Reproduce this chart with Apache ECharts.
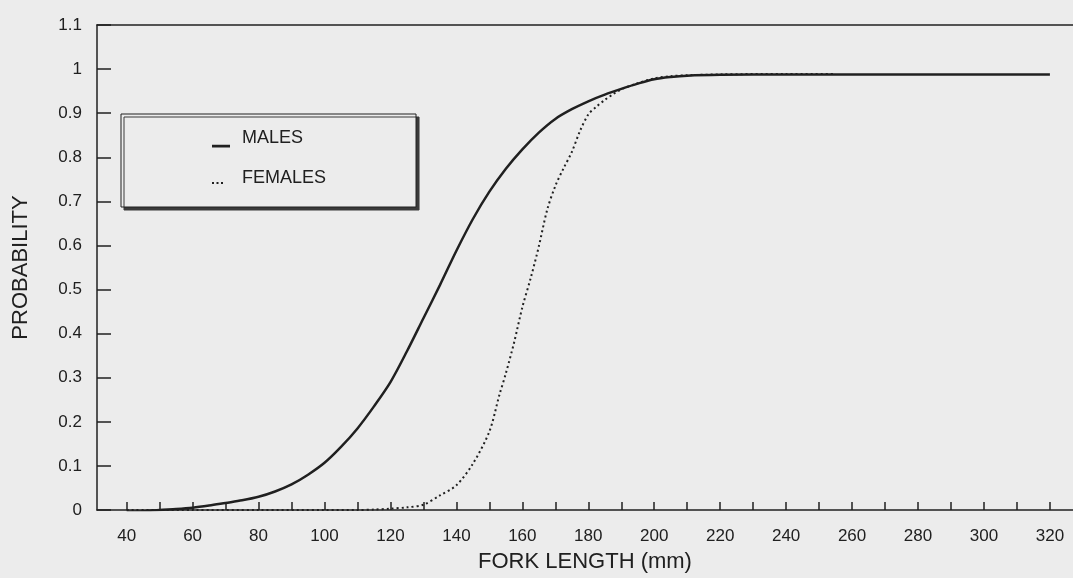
<!DOCTYPE html>
<html>
<head>
<meta charset="utf-8">
<title>Probability vs fork length</title>
<script src="https://cdn.jsdelivr.net/npm/echarts@6/dist/echarts.min.js"></script>
<style>
  html, body { margin: 0; padding: 0; background: #ececec; }
  #chart { width: 1073px; height: 578px; }
</style>
</head>
<body>
<div id="chart"></div>
<script>
// fork length (mm) and probability
const maleLen = [40, 45, 50, 55, 60, 65, 70, 75, 80, 85, 90, 95, 100, 105, 110, 115, 120, 125, 130, 135,
  140, 145, 150, 155, 160, 165, 170, 175, 180, 185, 190, 195, 200, 205, 210, 220, 240, 260, 280, 300, 320];
const maleProb = [-0.004, -0.003, 0.0, 0.002, 0.005, 0.01, 0.016, 0.022, 0.03, 0.042, 0.058, 0.08, 0.107, 0.143, 0.185, 0.235, 0.29, 0.36, 0.435, 0.51,
  0.588, 0.66, 0.722, 0.774, 0.818, 0.856, 0.887, 0.909, 0.927, 0.942, 0.955, 0.967, 0.977, 0.982, 0.985, 0.987, 0.988, 0.988, 0.988, 0.988, 0.988];

const femaleLen = [40, 60, 80, 100, 110, 115, 120, 125, 130, 135, 140, 145, 150, 153, 155, 157.5, 160, 162.5, 165, 167.5,
  170, 172.5, 175, 177.5, 180, 182.5, 185, 187.5, 190, 195, 200, 205, 210, 220, 240, 255];
const femaleProb = [0, 0, 0, 0, 0, 0.001, 0.003, 0.006, 0.012, 0.033, 0.056, 0.105, 0.178, 0.26, 0.31, 0.38, 0.46, 0.525, 0.598, 0.68,
  0.735, 0.775, 0.812, 0.86, 0.897, 0.915, 0.93, 0.943, 0.954, 0.968, 0.979, 0.984, 0.986, 0.988, 0.989, 0.989];

const xTicks = [40, 50, 60, 70, 80, 90, 100, 110, 120, 130, 140, 150, 160, 170, 180, 190, 200,
  210, 220, 230, 240, 250, 260, 270, 280, 290, 300, 310, 320];
const xLabels = [40, 60, 80, 100, 120, 140, 160, 180, 200, 220, 240, 260, 280, 300, 320];

const seriesNames = ['MALES', 'FEMALES'];

const font = 'Liberation Sans, Arial, sans-serif';
const ink = '#202020';

function pairs(xs, ys) {
  return xs.map((x, i) => [x, ys[i]]);
}

const myChart = echarts.init(document.getElementById('chart'));

// legend marks sit low, like in the old printout
const maleIcon = 'path://M0,0h0.01v0.01h-0.01z M24.99,19.99h0.01v0.01h-0.01z M0,16.8h18v2.6h-18z';
const femaleIcon = 'path://M0,0h0.01v0.01h-0.01z M24.99,19.99h0.01v0.01h-0.01z M0,14h2v2h-2z M4.5,14h2v2h-2z M9,14h2v2h-2z';

const option = {
  backgroundColor: '#ececec',
  animation: false,
  grid: {
    left: 97,
    right: 0,
    top: 25,
    bottom: 67.5
  },
  legend: {
    orient: 'vertical',
    left: 121,
    top: 114,
    padding: [14, 90, 19, 91],
    itemWidth: 25,
    itemHeight: 20,
    itemGap: 20,
    backgroundColor: '#ececec',
    borderColor: ink,
    borderWidth: 1,
    shadowColor: '#3a3a3a',
    shadowBlur: 0,
    shadowOffsetX: 3,
    shadowOffsetY: 3,
    textStyle: {
      color: ink,
      fontFamily: font,
      fontSize: 18
    },
    data: [
      { name: seriesNames[0], icon: maleIcon },
      { name: seriesNames[1], icon: femaleIcon }
    ]
  },
  xAxis: [
    {
      type: 'value',
      min: 31,
      max: 327,
      name: 'FORK LENGTH (mm)',
      nameLocation: 'middle',
      nameGap: 41,
      nameTextStyle: { color: ink, fontFamily: font, fontSize: 22 },
      splitLine: { show: false },
      axisLine: { lineStyle: { color: ink, width: 1.5 } },
      axisTick: {
        inside: true,
        length: 8,
        customValues: xTicks,
        lineStyle: { color: ink, width: 1.5 }
      },
      axisLabel: {
        customValues: xLabels,
        margin: 18,
        color: ink,
        fontFamily: font,
        fontSize: 17
      }
    },
    {
      type: 'value',
      position: 'top',
      min: 31,
      max: 327,
      splitLine: { show: false },
      axisLine: { show: true, lineStyle: { color: ink, width: 1.5 } },
      axisTick: { show: false },
      axisLabel: { show: false }
    }
  ],
  yAxis: {
    type: 'value',
    min: 0,
    max: 1.1,
    interval: 0.1,
    name: 'PROBABILITY',
    nameLocation: 'middle',
    nameGap: 65,
    nameTextStyle: { color: ink, fontFamily: font, fontSize: 22 },
    splitLine: { show: false },
    axisLine: { show: true, lineStyle: { color: ink, width: 1.5 } },
    axisTick: {
      inside: true,
      length: 14,
      lineStyle: { color: ink, width: 1.5 }
    },
    axisLabel: {
      margin: 15,
      color: ink,
      fontFamily: font,
      fontSize: 17
    }
  },
  series: [
    {
      name: seriesNames[0],
      type: 'line',
      showSymbol: false,
      smooth: 0.3,
      color: ink,
      lineStyle: { color: ink, width: 2.5 },
      data: pairs(maleLen, maleProb)
    },
    {
      name: seriesNames[1],
      type: 'line',
      showSymbol: false,
      smooth: 0.3,
      color: ink,
      lineStyle: { color: ink, width: 2, type: [2, 3] },
      data: pairs(femaleLen, femaleProb)
    }
  ]
};

myChart.setOption(option);
</script>
</body>
</html>
